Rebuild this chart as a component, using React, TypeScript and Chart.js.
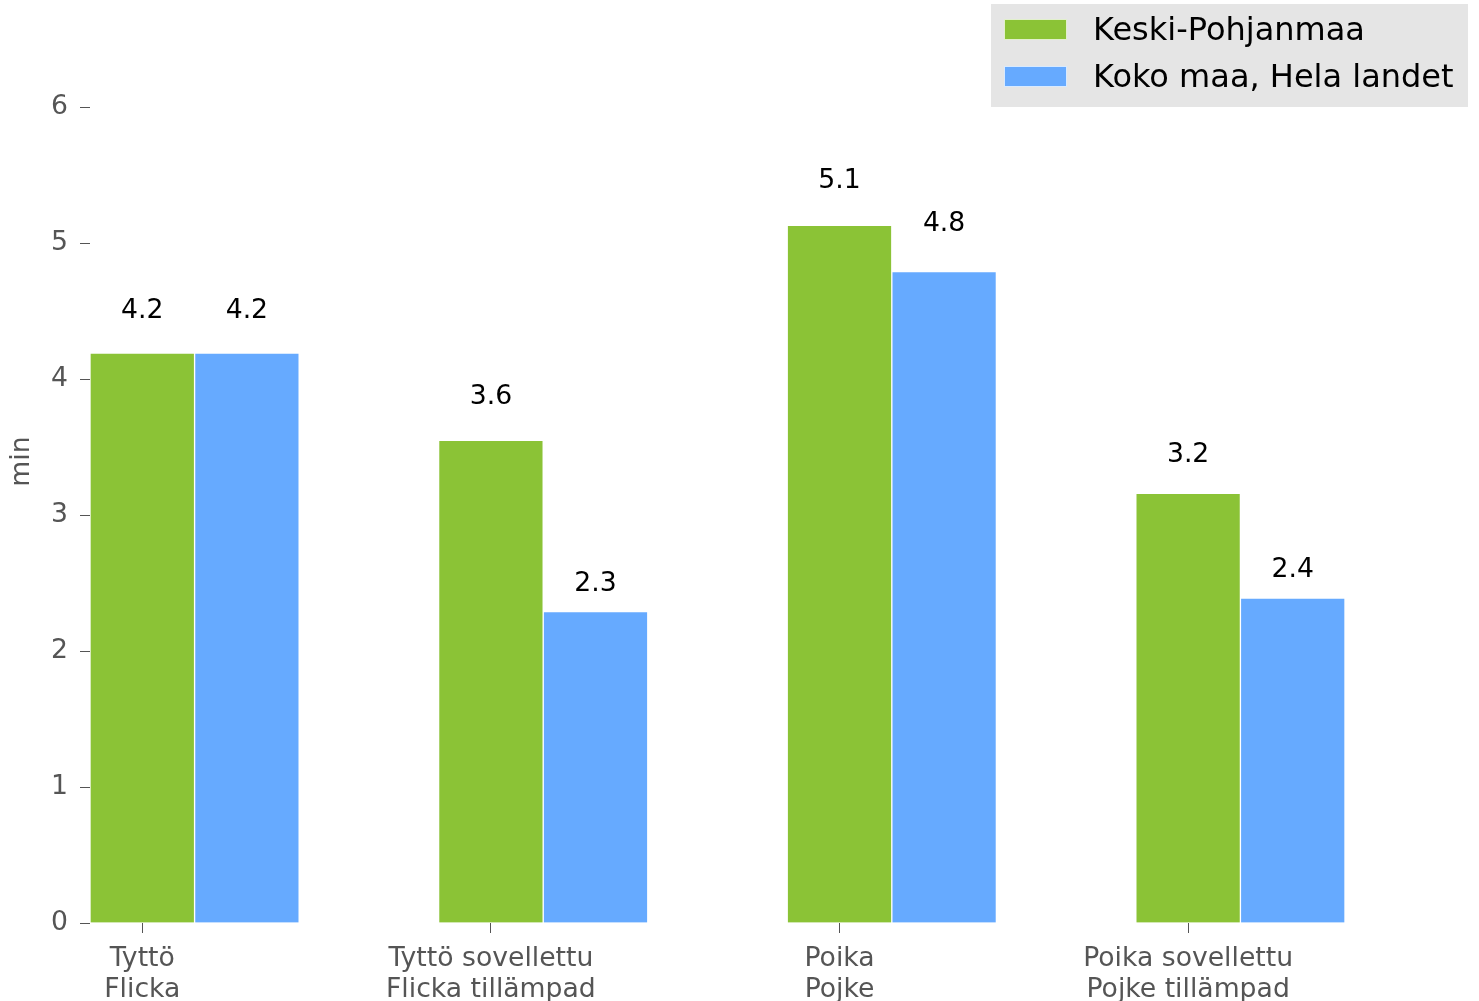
import React, { useEffect, useRef } from 'react';
import { Chart, registerables } from 'chart.js';

Chart.register(...registerables);

// ---- data ----
const categories: string[][] = [
  ['Tyttö', 'Flicka'],
  ['Tyttö sovellettu', 'Flicka tillämpad'],
  ['Poika', 'Pojke'],
  ['Poika sovellettu', 'Pojke tillämpad'],
];
const seriesNames = ['Keski-Pohjanmaa', 'Koko maa, Hela landet'];
const keskiValues = [4.19, 3.55, 5.13, 3.16];
const kokoValues = [4.19, 2.29, 4.79, 2.39];
const keskiLabels = ['4.2', '3.6', '5.1', '3.2'];
const kokoLabels = ['4.2', '2.3', '4.8', '2.4'];
const yTicks = [0, 1, 2, 3, 4, 5, 6];
const yAxisTitle = 'min';

// ---- style ----
const GREEN = '#8BC336';
const BLUE = '#66AAFF';
const EDGE = 'rgba(255,255,255,0.75)';
const TEXT_GRAY = '#555555';
const FONT = 'DejaVu Sans';
const FS = 26.67;
const LEGEND_FS = 32;
const BAR_W = 0.3;

const overlayPlugin = {
  id: 'overlay',
  afterDatasetsDraw(chart: any) {
    const ctx = chart.ctx;
    const yScale = chart.scales.y;
    ctx.save();
    ctx.font = `${FS}px "${FONT}"`;
    ctx.fillStyle = '#000000';
    ctx.textAlign = 'center';
    ctx.textBaseline = 'alphabetic';
    [keskiLabels, kokoLabels].forEach((labels, di) => {
      const meta = chart.getDatasetMeta(di);
      meta.data.forEach((bar: any, i: number) => {
        const yv = parseFloat(labels[i]) * 1.06;
        ctx.fillText(labels[i], bar.x, yScale.getPixelForValue(yv));
      });
    });
    ctx.restore();
  },
  afterDraw(chart: any) {
    const ctx = chart.ctx;
    ctx.save();
    // legend box
    ctx.fillStyle = '#E5E5E5';
    ctx.fillRect(991, 4, 477, 103);
    const colors = [GREEN, BLUE];
    const rowY = [19, 66];
    seriesNames.forEach((name, i) => {
      ctx.fillStyle = colors[i];
      ctx.fillRect(1004, rowY[i], 63, 21);
      ctx.strokeStyle = EDGE;
      ctx.lineWidth = 1;
      ctx.strokeRect(1004.5, rowY[i] + 0.5, 62, 20);
      ctx.fillStyle = '#000000';
      ctx.font = `${LEGEND_FS}px "${FONT}"`;
      ctx.textAlign = 'left';
      ctx.textBaseline = 'middle';
      ctx.fillText(name, 1093, rowY[i] + 13);
    });
    ctx.restore();
  },
};

export default function App() {
  const canvasRef = useRef<HTMLCanvasElement | null>(null);

  useEffect(() => {
    if (!canvasRef.current) return;
    Chart.defaults.font.family = FONT;
    const chart = new Chart(canvasRef.current, {
      type: 'bar',
      data: {
        datasets: [
          {
            label: seriesNames[0],
            data: keskiValues.map((v, i) => ({ x: i, y: v })),
            backgroundColor: GREEN,
            borderColor: EDGE,
            borderWidth: 1,
            grouped: false,
            barPercentage: 1,
            categoryPercentage: 1,
          } as any,
          {
            label: seriesNames[1],
            data: kokoValues.map((v, i) => ({ x: i + BAR_W, y: v })),
            backgroundColor: BLUE,
            borderColor: EDGE,
            borderWidth: 1,
            grouped: false,
            barPercentage: 1,
            categoryPercentage: 1,
          } as any,
        ],
      },
      options: {
        responsive: false,
        animation: false,
        devicePixelRatio: 1,
        layout: { padding: { top: 0, left: 0, right: 134, bottom: 0 } },
        plugins: {
          legend: { display: false },
          tooltip: { enabled: false },
          title: { display: false },
        },
        scales: {
          x: {
            type: 'linear',
            offset: false,
            min: -BAR_W / 2,
            max: categories.length - 1 + BAR_W * 1.5,
            bounds: 'data',
            afterBuildTicks: (s: any) => {
              s.ticks = categories.map((_, i) => ({ value: i }));
            },
            afterFit: (s: any) => {
              s.height = 78;
            },
            ticks: {
              autoSkip: false,
              maxRotation: 0,
              minRotation: 0,
              padding: 11,
              color: TEXT_GRAY,
              font: { size: FS, lineHeight: 1.15 },
              callback: (value: any) => categories[Math.round(Number(value))] ?? '',
            },
            grid: {
              offset: false,
              drawOnChartArea: false,
              drawTicks: true,
              tickLength: 10,
              color: TEXT_GRAY,
            },
            border: { display: false },
          } as any,
          y: {
            type: 'linear',
            min: 0,
            max: 6.787,
            bounds: 'data',
            afterBuildTicks: (s: any) => {
              s.ticks = yTicks.map((v) => ({ value: v }));
            },
            afterFit: (s: any) => {
              s.width = 90;
              s.paddingTop = 0;
              s.paddingBottom = 0;
            },
            ticks: {
              padding: 12,
              color: TEXT_GRAY,
              font: { size: FS },
              callback: (value: any) => String(value),
            },
            grid: {
              drawOnChartArea: false,
              drawTicks: true,
              tickLength: 10,
              color: TEXT_GRAY,
            },
            border: { display: false },
            title: {
              display: true,
              text: yAxisTitle,
              color: TEXT_GRAY,
              font: { size: FS },
              padding: { top: 6, bottom: 0 },
            },
          } as any,
        },
      },
      plugins: [overlayPlugin],
    });
    return () => chart.destroy();
  }, []);

  return (
    <div style={{ position: 'fixed', left: 0, top: 0, width: 1479, height: 1001, background: '#ffffff' }}>
      <canvas ref={canvasRef} width={1479} height={1001} style={{ display: 'block' }} />
    </div>
  );
}
